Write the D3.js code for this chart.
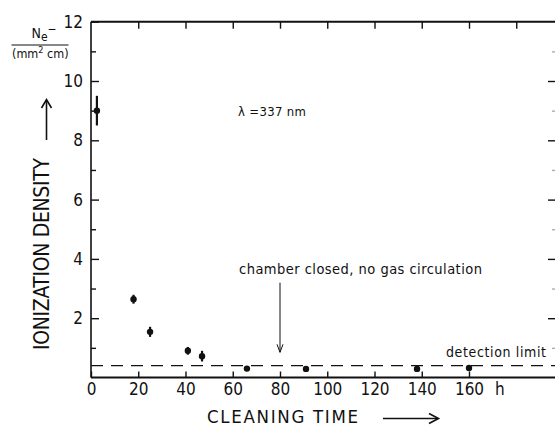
<!DOCTYPE html>
<html>
<head>
<meta charset="utf-8">
<script src="https://cdn.jsdelivr.net/npm/d3@7"></script>
<style>
  html, body { margin: 0; padding: 0; background: #fff; }
  svg { display: block; }
  text { font-family: "Liberation Sans Narrow", "DejaVu Sans Condensed", "Arial Narrow", sans-serif; fill: #111; }
</style>
</head>
<body>
<svg id="chart" width="555" height="427"></svg>
<script>
// Cleaning time (h) and measured ionization density (electrons per mm² cm)
const cleaningTime = [2.5, 18, 25, 41, 47, 66, 91, 138, 160];
const density      = [9.0, 2.64, 1.54, 0.90, 0.72, 0.30, 0.29, 0.29, 0.32];
const densityErr   = [0.5, 0.15, 0.17, 0.13, 0.18, 0, 0, 0, 0];

const xTicks = [0, 20, 40, 60, 80, 100, 120, 140, 160];
const xTopTicks = [20, 40, 60, 80, 100, 120, 140, 160, 180];
const yTicks = [2, 4, 6, 8, 10, 12];
const yMinorTicks = [1, 3, 5, 7, 9, 11];

const detectionLimit = 0.4;
const chamberClosedAt = 80;          // h, marked by the arrow
const arrowSpan = [3.2, 0.85];       // density range covered by the arrow

const svg = d3.select("#chart");
const ink = "#111";

// scales
const x = d3.scaleLinear().domain([0, 160]).range([91, 469]);
const y = d3.scaleLinear().domain([0, 12]).range([377.5, 21.7]);
const frameRight = 556;

// frame lines
svg.append("line").attr("x1", x(0)).attr("x2", frameRight).attr("y1", y(12)).attr("y2", y(12))
  .attr("stroke", ink).attr("stroke-width", 2);
svg.append("line").attr("x1", x(0)).attr("x2", frameRight).attr("y1", y(0)).attr("y2", y(0))
  .attr("stroke", ink).attr("stroke-width", 2);
svg.append("line").attr("x1", x(0)).attr("x2", x(0)).attr("y1", y(12)).attr("y2", y(0))
  .attr("stroke", ink).attr("stroke-width", 1.6);

// left axis: major ticks with labels, minor ticks without
svg.append("g").attr("transform", `translate(${x(0)},0)`)
  .call(d3.axisLeft(y).tickValues(yTicks).tickSizeInner(-8).tickSizeOuter(0).tickPadding(8).tickFormat(d3.format("d")));
svg.append("g").attr("transform", `translate(${x(0)},0)`)
  .call(d3.axisLeft(y).tickValues(yMinorTicks).tickSizeInner(-5).tickSizeOuter(0).tickFormat(""));

// right axis (inward ticks only)
svg.append("g").attr("transform", `translate(${frameRight},0)`)
  .call(d3.axisRight(y).tickValues(yTicks.filter(d => d < 12)).tickSizeInner(-8).tickSizeOuter(0).tickFormat(""));
svg.append("g").attr("transform", `translate(${frameRight},0)`)
  .call(d3.axisRight(y).tickValues(yMinorTicks).tickSizeInner(-4).tickSizeOuter(0).tickFormat(""))
  .selectAll("line").attr("stroke-opacity", 0.35);

// bottom axis
svg.append("g").attr("transform", `translate(0,${y(0)})`)
  .call(d3.axisBottom(x).tickValues(xTicks).tickSizeInner(-6).tickSizeOuter(0).tickPadding(5).tickFormat(d3.format("d")));

// top axis ticks
svg.append("g").attr("transform", `translate(0,${y(12)})`)
  .call(d3.axisTop(x).tickValues(xTopTicks).tickSizeInner(-7).tickSizeOuter(0).tickFormat(""));

svg.selectAll(".domain").remove();
svg.selectAll(".tick line").attr("stroke", ink).attr("stroke-width", 1.4);
svg.selectAll(".tick text").style("font-size", "17px").attr("fill", ink);

// unit of time after the last label
svg.append("text").attr("x", 495).attr("y", y(0) + 5).attr("dy", "0.71em")
  .style("font-size", "17px").text("h");

// detection limit
svg.append("line").attr("x1", x(0)).attr("x2", frameRight)
  .attr("y1", y(detectionLimit)).attr("y2", y(detectionLimit))
  .attr("stroke", ink).attr("stroke-width", 1.3).attr("stroke-dasharray", "12,8");
svg.append("text").attr("x", 446).attr("y", 357).style("font-size", "14px")
  .attr("textLength", 100).attr("lengthAdjust", "spacing").text("detection limit");

// error bars and points
const pts = cleaningTime.map((t, i) => ({ t, v: density[i], e: densityErr[i] }));
svg.append("g").selectAll("line").data(pts.filter(d => d.e > 0)).join("line")
  .attr("x1", d => x(d.t)).attr("x2", d => x(d.t))
  .attr("y1", d => y(d.v + d.e)).attr("y2", d => y(d.v - d.e))
  .attr("stroke", ink).attr("stroke-width", 2.2);
svg.append("g").selectAll("circle").data(pts).join("circle")
  .attr("cx", d => x(d.t)).attr("cy", d => y(d.v)).attr("r", 3.2).attr("fill", ink);

// annotation: chamber closed
svg.append("text").attr("x", 239).attr("y", 274).style("font-size", "14.5px")
  .attr("textLength", 243).attr("lengthAdjust", "spacing")
  .text("chamber closed, no gas circulation");
const ax = x(chamberClosedAt);
svg.append("line").attr("x1", ax).attr("x2", ax).attr("y1", y(arrowSpan[0])).attr("y2", y(arrowSpan[1]))
  .attr("stroke", ink).attr("stroke-width", 1);
svg.append("path")
  .attr("d", `M${ax - 3},${y(arrowSpan[1]) - 8} L${ax},${y(arrowSpan[1])} L${ax + 3},${y(arrowSpan[1]) - 8}`)
  .attr("fill", "none").attr("stroke", ink).attr("stroke-width", 1);

// wavelength
svg.append("text").attr("x", 238).attr("y", 115.5).style("font-size", "13px")
  .attr("textLength", 68).attr("lengthAdjust", "spacing").text("λ =337 nm");

// x title with arrow
svg.append("text").attr("x", 207).attr("y", 422.5).style("font-size", "18.5px")
  .attr("textLength", 151).attr("lengthAdjust", "spacing").text("CLEANING TIME");
svg.append("line").attr("x1", 383).attr("x2", 438).attr("y1", 418.5).attr("y2", 418.5)
  .attr("stroke", ink).attr("stroke-width", 1.6);
svg.append("path").attr("d", "M429,413.5 L438.5,418.5 L429,423.5")
  .attr("fill", "none").attr("stroke", ink).attr("stroke-width", 1.6);

// y title with arrow
svg.append("text").attr("transform", "translate(48.5,350) rotate(-90)").style("font-size", "21px")
  .attr("textLength", 192).attr("lengthAdjust", "spacing").text("IONIZATION DENSITY");
svg.append("line").attr("x1", 46.5).attr("x2", 46.5).attr("y1", 140).attr("y2", 100)
  .attr("stroke", ink).attr("stroke-width", 1.6);
svg.append("path").attr("d", "M41.5,108 L46.5,99.5 L51.5,108")
  .attr("fill", "none").attr("stroke", ink).attr("stroke-width", 1.6);

// y unit as a fraction: Ne− / (mm² cm)
const unit = svg.append("g");
const num = unit.append("text").attr("x", 31.5).attr("y", 38).style("font-size", "14px");
num.append("tspan").text("N");
num.append("tspan").attr("dy", 3).style("font-size", "12px").text("e");
num.append("tspan").attr("dy", -8).style("font-size", "12px").text("−");
unit.append("line").attr("x1", 11.5).attr("x2", 68.5).attr("y1", 45).attr("y2", 45)
  .attr("stroke", ink).attr("stroke-width", 1);
const den = unit.append("text").attr("x", 12).attr("y", 58).style("font-size", "12.5px");
den.append("tspan").text("(mm");
den.append("tspan").attr("dy", -5).style("font-size", "9px").text("2");
den.append("tspan").attr("dy", 5).text(" cm)");
</script>
</body>
</html>
